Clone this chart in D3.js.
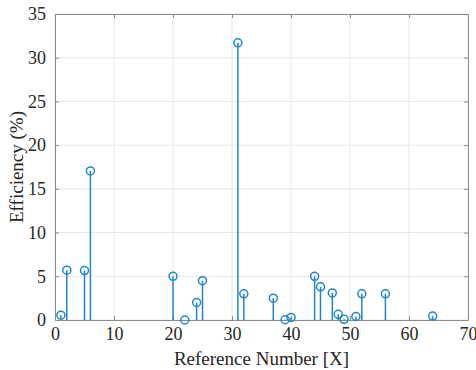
<!DOCTYPE html>
<html>
<head>
<meta charset="utf-8">
<script src="https://cdn.jsdelivr.net/npm/d3@7"></script>
<style>
  body { margin: 0; background: #fff; }
</style>
</head>
<body>
<div id="chart"></div>
<script>
// reference numbers and efficiency values
const refNumbers = [1, 2, 5, 6, 20, 22, 24, 25, 31, 32, 37, 39, 40, 44, 45, 47, 48, 49, 51, 52, 56, 64];
const efficiency = [0.55, 5.7, 5.65, 17.05, 5.0, 0.0, 2.0, 4.5, 31.7, 3.0, 2.5, 0.03, 0.3, 5.0, 3.8, 3.1, 0.65, 0.08, 0.4, 3.0, 3.0, 0.45];
const xTicks = [0, 10, 20, 30, 40, 50, 60, 70];
const yTicks = [0, 5, 10, 15, 20, 25, 30, 35];

let width = 476;
let height = 370;
let margin = { left: 55, right: 8, top: 14, bottom: 50 };
let stemColor = "#1f86cc";
let axisColor = "#8c8c8c";
let serif = "Liberation Serif, Times New Roman, serif";

let svg = d3.select("#chart")
  .append("svg")
  .attr("width", width)
  .attr("height", height);

let x = d3.scaleLinear().domain([0, 70]).range([margin.left, width - margin.right]);
let y = d3.scaleLinear().domain([0, 35]).range([height - margin.bottom, margin.top]);

// grid
svg.append("g")
  .selectAll("line")
  .data(xTicks)
  .enter()
    .append("line")
    .attr("x1", d => x(d)).attr("x2", d => x(d))
    .attr("y1", y(0)).attr("y2", y(35))
    .attr("stroke", "#e6e6e6");
svg.append("g")
  .selectAll("line")
  .data(yTicks)
  .enter()
    .append("line")
    .attr("x1", x(0)).attr("x2", x(70))
    .attr("y1", d => y(d)).attr("y2", d => y(d))
    .attr("stroke", "#e6e6e6");

// axes on all four sides with inward ticks
function styleAxis(g) {
  g.attr("font-family", serif).attr("font-size", 18);
  g.select(".domain").attr("stroke", axisColor);
  g.selectAll(".tick line").attr("stroke", axisColor);
  g.selectAll(".tick text").attr("fill", "#262626");
}
svg.append("g")
  .attr("transform", `translate(0,${y(0)})`)
  .call(d3.axisBottom(x).tickValues(xTicks).tickSizeInner(-4).tickSizeOuter(0).tickPadding(7))
  .call(styleAxis);
svg.append("g")
  .attr("transform", `translate(0,${y(35)})`)
  .call(d3.axisTop(x).tickValues(xTicks).tickSizeInner(-4).tickSizeOuter(0).tickFormat(""))
  .call(styleAxis);
svg.append("g")
  .attr("transform", `translate(${x(0)},0)`)
  .call(d3.axisLeft(y).tickValues(yTicks).tickSizeInner(-4).tickSizeOuter(0).tickPadding(9))
  .call(styleAxis);
svg.append("g")
  .attr("transform", `translate(${x(70)},0)`)
  .call(d3.axisRight(y).tickValues(yTicks).tickSizeInner(-4).tickSizeOuter(0).tickFormat(""))
  .call(styleAxis);

// stems
let points = refNumbers.map((r, i) => ({ ref: r, eff: efficiency[i] }));
svg.append("g")
  .selectAll("line")
  .data(points)
  .enter()
    .append("line")
    .attr("x1", d => x(d.ref)).attr("x2", d => x(d.ref))
    .attr("y1", y(0)).attr("y2", d => y(d.eff))
    .attr("stroke", stemColor)
    .attr("stroke-width", 1.5);
svg.append("g")
  .selectAll("circle")
  .data(points)
  .enter()
    .append("circle")
    .attr("cx", d => x(d.ref))
    .attr("cy", d => y(d.eff))
    .attr("r", 4)
    .attr("fill", "none")
    .attr("stroke", stemColor)
    .attr("stroke-width", 1.5);

// axis labels
svg.append("text")
  .attr("x", (x(0) + x(70)) / 2)
  .attr("y", 365)
  .attr("text-anchor", "middle")
  .attr("font-family", serif)
  .attr("font-size", 19)
  .attr("fill", "#262626")
  .text("Reference Number [X]");
svg.append("text")
  .attr("transform", `translate(23,${(y(0) + y(35)) / 2}) rotate(-90)`)
  .attr("text-anchor", "middle")
  .attr("font-family", serif)
  .attr("font-size", 19)
  .attr("fill", "#262626")
  .text("Efficiency (%)");
</script>
</body>
</html>
